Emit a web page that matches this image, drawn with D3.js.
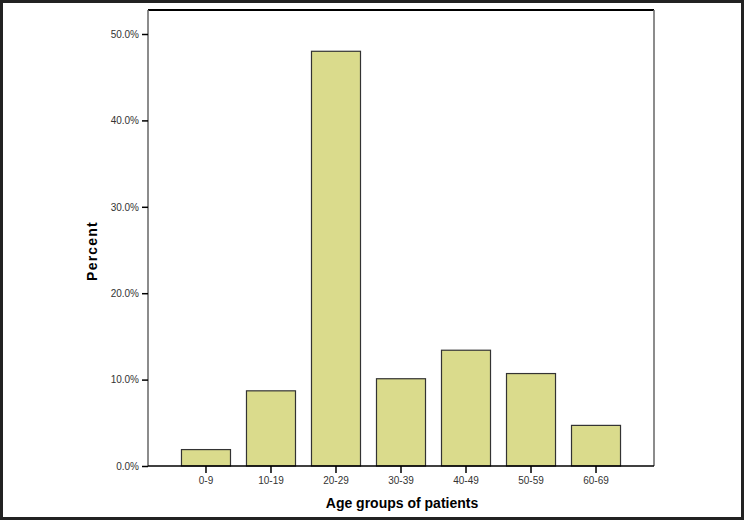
<!DOCTYPE html>
<meta charset="utf-8">
<style>
  body { margin: 0; background: #fff; }
  svg { display: block; }
</style>
<script src="https://d3js.org/d3.v7.min.js"></script>
<div id="my_dataviz"></div>
<script>

  // data
  var ageGroups = ["0-9", "10-19", "20-29", "30-39", "40-49", "50-59", "60-69"];
  var percents  = [1.9, 8.7, 48.0, 10.1, 13.4, 10.7, 4.7];
  var yTicks    = [0, 10, 20, 30, 40, 50];

  var W = 744, H = 520;
  var plot = {left: 148, right: 654, top: 10, bottom: 466};

  var svg = d3.select("#my_dataviz")
    .append("svg")
      .attr("width", W)
      .attr("height", H);

  // outer frame
  svg.append("rect")
    .attr("x", 1.5).attr("y", 1.5)
    .attr("width", W - 3).attr("height", H - 3)
    .style("fill", "#fff")
    .style("stroke", "#222")
    .style("stroke-width", 3);

  // scales
  var x = d3.scaleBand()
    .domain(ageGroups)
    .range([plot.left, plot.right])
    .paddingInner(0.246)
    .paddingOuter(0.515);

  var y = d3.scaleLinear()
    .domain([0, 50])
    .range([plot.bottom, plot.bottom - 432]);

  // plot frame: top and right
  svg.append("line")
    .attr("x1", plot.left).attr("x2", plot.right)
    .attr("y1", plot.top).attr("y2", plot.top)
    .style("stroke", "#000").style("stroke-width", 2);
  svg.append("line")
    .attr("x1", plot.right).attr("x2", plot.right)
    .attr("y1", plot.top).attr("y2", plot.bottom)
    .style("stroke", "#666").style("stroke-width", 1.5);

  // bars
  svg.append("g")
    .selectAll("rect")
    .data(percents)
    .enter()
    .append("rect")
      .attr("x", function(d, i) { return x(ageGroups[i]); })
      .attr("y", function(d) { return y(d); })
      .attr("width", x.bandwidth())
      .attr("height", function(d) { return y(0) - y(d); })
      .style("fill", "#dadb8c")
      .style("stroke", "#333")
      .style("stroke-width", 1.2);

  // Y axis
  var yAxis = svg.append("g")
    .attr("transform", "translate(" + plot.left + ",0)")
    .call(d3.axisLeft(y)
      .tickValues(yTicks)
      .tickSize(6)
      .tickPadding(3)
      .tickFormat(function(d) { return d.toFixed(1) + "%"; }));
  yAxis.select(".domain")
    .attr("d", "M0," + plot.top + "V" + plot.bottom)
    .style("stroke", "#666").style("stroke-width", 1.5);
  yAxis.selectAll(".tick line").style("stroke", "#000").style("stroke-width", 1.5);
  yAxis.selectAll("text")
    .style("font-family", "Liberation Sans, Arial, sans-serif")
    .style("font-size", "10px")
    .style("fill", "#333");

  // X axis
  var xAxis = svg.append("g")
    .attr("transform", "translate(0," + plot.bottom + ")")
    .call(d3.axisBottom(x).tickSize(7).tickPadding(4));
  xAxis.select(".domain")
    .attr("d", "M" + plot.left + ",0H" + plot.right)
    .style("stroke", "#000").style("stroke-width", 1.5);
  xAxis.selectAll(".tick line").style("stroke", "#000").style("stroke-width", 1.5);
  xAxis.selectAll("text")
    .style("font-family", "Liberation Sans, Arial, sans-serif")
    .style("font-size", "10px")
    .style("fill", "#333");

  // axis titles
  svg.append("text")
    .attr("x", (plot.left + plot.right) / 2 + 1)
    .attr("y", 508)
    .attr("text-anchor", "middle")
    .style("font-family", "Liberation Sans, Arial, sans-serif")
    .style("font-weight", "bold")
    .style("font-size", "14px")
    .text("Age groups of patients");

  svg.append("text")
    .attr("transform", "translate(97,251) rotate(-90)")
    .attr("text-anchor", "middle")
    .style("font-family", "Liberation Sans, Arial, sans-serif")
    .style("font-weight", "bold")
    .style("font-size", "14px")
    .style("letter-spacing", "1.2px")
    .text("Percent");

</script>
